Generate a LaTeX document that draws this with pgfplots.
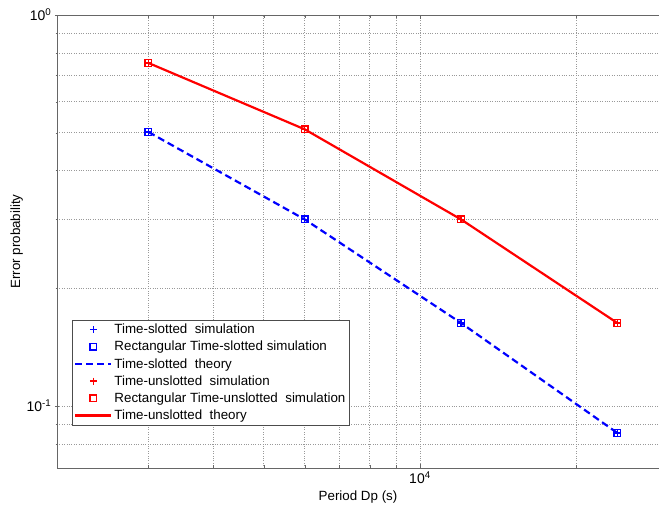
\documentclass[border=0pt]{standalone}
\usepackage{pgfplots}
\pgfplotsset{compat=1.18}
\usepackage{fontspec}
\setmainfont{Liberation Sans}

\begin{document}
\begin{tikzpicture}
  \begin{axis}[
    scale only axis,
    width=602bp, height=453bp,
    xmode=log, ymode=log,
    xmin=2000, xmax=28870,
    ymin=0.0694, ymax=1,
    enlargelimits=false,
    axis x line=box, axis y line=left,
    axis line style={-, draw=black!60, line width=0.8pt},
    xtick={10000}, xticklabels={10\textsuperscript{4}},
    ytick={0.1,1}, yticklabels={10\textsuperscript{-1},10\textsuperscript{0}},
    minor xtick={3000,4000,5000,6000,7000,8000,9000,20000},
    minor ytick={0.08,0.09,0.2,0.3,0.4,0.5,0.6,0.7,0.8,0.9},
    grid=both,
    major grid style={dotted, black!40, line width=0.6pt},
    minor grid style={dotted, black!40, line width=0.6pt},
    tick style={black!60},
    tick label style={font=\fontsize{14}{16}\selectfont},
    label style={font=\fontsize{13.4}{15}\selectfont},
    ylabel style={yshift=-3bp},
    xlabel={Period Dp (s)},
    ylabel={Error probability},
    legend cell align=left,
    legend style={at={(0.025,0.327)}, anchor=north west, draw=black!70,
      font=\fontsize{13.4}{15}\selectfont, row sep=2bp, inner sep=2bp},
    legend image code/.code={\draw[#1,mark repeat=2,mark phase=2]
      plot coordinates {(0bp,0bp)(18bp,0bp)(36bp,0bp)};},
  ]

  % time-slotted (blue)
  \addplot[only marks, blue, mark=+, mark size=3.5bp, line width=1.4pt] coordinates {
    (3000,0.502) (6000,0.300) (12000,0.163) (24000,0.0853)};
  \addlegendentry{Time-slotted\ \ simulation}
  \addplot[only marks, blue, mark=square, mark size=3.3bp, line width=1.4pt] coordinates {
    (3000,0.502) (6000,0.300) (12000,0.163) (24000,0.0853)};
  \addlegendentry{Rectangular Time-slotted simulation}
  \addplot[color=blue, line width=2.2pt, dash pattern=on 7bp off 4bp] coordinates {
    (3000,0.502) (6000,0.300) (12000,0.163) (24000,0.0853)};
  \addlegendentry{Time-slotted\ \ theory}

  % time-unslotted (red)
  \addplot[only marks, red, mark=+, mark size=3.5bp, line width=1.4pt] coordinates {
    (3000,0.754) (6000,0.510) (12000,0.300) (24000,0.163)};
  \addlegendentry{Time-unslotted\ \ simulation}
  \addplot[only marks, red, mark=square, mark size=3.3bp, line width=1.4pt] coordinates {
    (3000,0.754) (6000,0.510) (12000,0.300) (24000,0.163)};
  \addlegendentry{Rectangular Time-unslotted\ \ simulation}
  \addplot[color=red, line width=2.2pt] coordinates {
    (3000,0.754) (6000,0.510) (12000,0.300) (24000,0.163)};
  \addlegendentry{Time-unslotted\ \ theory}

  \end{axis}
  \pgfresetboundingbox
  \path[use as bounding box] (current axis.south west) ++(-57bp,-45bp) rectangle ++(659bp,513bp);
\end{tikzpicture}
\end{document}
